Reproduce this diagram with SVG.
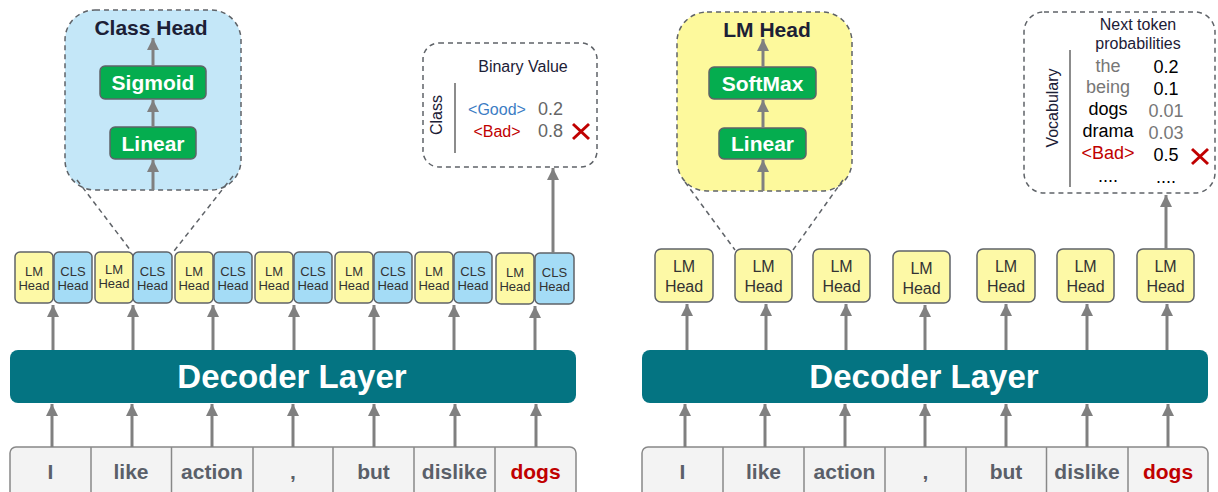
<svg xmlns="http://www.w3.org/2000/svg" width="1218" height="492" viewBox="0 0 1218 492">
<style>
text{font-family:"Liberation Sans",Arial,sans-serif}
.dash{stroke:#5f6368;stroke-width:1.5;stroke-dasharray:5 4}
.green{fill:#05ad4f;stroke:#5f6368;stroke-width:1.5}
.gt{fill:#fff;font-weight:bold;font-size:21px;text-anchor:middle}
.title{fill:#1c2036;font-weight:bold;font-size:21px;text-anchor:middle}
.lm{fill:#fdf9a6;stroke:#5f6368;stroke-width:1.5}
.cls{fill:#a4dcf6;stroke:#5f6368;stroke-width:1.5}
.hs{fill:#333;font-size:13px;text-anchor:middle}
.hb{fill:#333;font-size:16px;text-anchor:middle}
.dec{fill:#047482}
.dt{fill:#fff;font-weight:bold;font-size:33px;text-anchor:middle}
.tok{fill:#f3f3f3;stroke:#888;stroke-width:1.5}
.div{stroke:#888;stroke-width:1.5}
.tt{fill:#5a5f69;font-weight:bold;font-size:21px;text-anchor:middle}
.red{fill:#c00000}
.arr{stroke:#808080;stroke-width:3;fill:none;marker-end:url(#ah)}
.zl{stroke:#5f6368;stroke-width:1.5;stroke-dasharray:5 4;fill:none}
.x{stroke:#c00000;stroke-width:3}
.t16{font-size:16px}
.t18{font-size:18px}
</style>
<defs>
<marker id="ah" viewBox="0 0 12 12" markerUnits="userSpaceOnUse" markerWidth="12" markerHeight="12" refX="12" refY="6" orient="auto">
<path d="M0,0 L12,6 L0,12 z" fill="#808080"/>
</marker>
</defs>

<!-- LEFT SIDE -->
<g id="class-head">
<rect x="65" y="10" width="176" height="180" rx="30" fill="#c4e7f8" class="dash"/>
<text x="151" y="35" class="title">Class Head</text>
</g>
<g id="sigmoid"><rect x="100" y="66" width="106" height="33" rx="5" class="green"/><text x="153" y="90" class="gt">Sigmoid</text></g>
<g id="linear-l"><rect x="110" y="127" width="86" height="32" rx="5" class="green"/><text x="153" y="151" class="gt">Linear</text></g>

<g id="binary-box">
<rect x="423" y="43" width="174" height="124" rx="16" fill="#fff" class="dash"/>
<text x="523" y="72" class="t16" fill="#1c2036" text-anchor="middle">Binary Value</text>
<text transform="translate(442,115) rotate(-90)" class="t16" fill="#1c2036" text-anchor="middle">Class</text>
<line x1="455" y1="83" x2="455" y2="153" stroke="#666" stroke-width="1.5"/>
<text x="497" y="115" class="t16" fill="#3c7dc4" text-anchor="middle">&lt;Good&gt;</text>
<text x="538" y="115" class="t18" fill="#666">0.2</text>
<text x="497" y="137" class="t16 red" text-anchor="middle">&lt;Bad&gt;</text>
<text x="538" y="137" class="t18" fill="#666">0.8</text>
<line x1="573" y1="124" x2="589" y2="139" class="x"/><line x1="589" y1="124" x2="573" y2="139" class="x"/>
</g>

<g id="heads-left">
<g id="lh1"><rect x="15" y="252" width="38" height="51" rx="5" class="lm"/><text x="34" y="276" class="hs">LM</text><text x="34" y="290" class="hs">Head</text>
<rect x="54" y="252" width="38" height="51" rx="5" class="cls"/><text x="73" y="276" class="hs">CLS</text><text x="73" y="290" class="hs">Head</text></g>
<g id="lh2"><rect x="95" y="252" width="38" height="51" rx="5" class="lm"/><text x="114" y="274" class="hs">LM</text><text x="114" y="288" class="hs">Head</text>
<rect x="133" y="252" width="39" height="51" rx="5" class="cls"/><text x="152.5" y="276" class="hs">CLS</text><text x="152.5" y="290" class="hs">Head</text></g>
<g id="lh3"><rect x="175" y="252" width="38" height="51" rx="5" class="lm"/><text x="194" y="276" class="hs">LM</text><text x="194" y="290" class="hs">Head</text>
<rect x="214" y="252" width="38" height="51" rx="5" class="cls"/><text x="233" y="276" class="hs">CLS</text><text x="233" y="290" class="hs">Head</text></g>
<g id="lh4"><rect x="255" y="252" width="38" height="51" rx="5" class="lm"/><text x="274" y="276" class="hs">LM</text><text x="274" y="290" class="hs">Head</text>
<rect x="294" y="252" width="38" height="51" rx="5" class="cls"/><text x="313" y="276" class="hs">CLS</text><text x="313" y="290" class="hs">Head</text></g>
<g id="lh5"><rect x="335" y="252" width="38" height="51" rx="5" class="lm"/><text x="354" y="276" class="hs">LM</text><text x="354" y="290" class="hs">Head</text>
<rect x="374" y="252" width="38" height="51" rx="5" class="cls"/><text x="393" y="276" class="hs">CLS</text><text x="393" y="290" class="hs">Head</text></g>
<g id="lh6"><rect x="415" y="252" width="38" height="51" rx="5" class="lm"/><text x="434" y="276" class="hs">LM</text><text x="434" y="290" class="hs">Head</text>
<rect x="454" y="252" width="38" height="51" rx="5" class="cls"/><text x="473" y="276" class="hs">CLS</text><text x="473" y="290" class="hs">Head</text></g>
<g id="lh7"><rect x="496" y="253" width="38" height="51" rx="5" class="lm"/><text x="515" y="277" class="hs">LM</text><text x="515" y="291" class="hs">Head</text>
<rect x="535" y="253" width="39" height="51" rx="5" class="cls"/><text x="554.5" y="277" class="hs">CLS</text><text x="554.5" y="291" class="hs">Head</text></g>
</g>

<g id="decoder-left"><rect x="10" y="350" width="566" height="53" rx="8" class="dec"/><text x="292" y="388" class="dt">Decoder Layer</text></g>

<g id="tokens-left">
<rect x="10" y="447" width="566" height="60" rx="6" class="tok"/>
<line x1="91" y1="447" x2="91" y2="492" class="div"/>
<line x1="171.5" y1="447" x2="171.5" y2="492" class="div"/>
<line x1="253" y1="447" x2="253" y2="492" class="div"/>
<line x1="333" y1="447" x2="333" y2="492" class="div"/>
<line x1="414" y1="447" x2="414" y2="492" class="div"/>
<line x1="495" y1="447" x2="495" y2="492" class="div"/>
<text x="50.5" y="479" class="tt">I</text>
<text x="131" y="479" class="tt">like</text>
<text x="212" y="479" class="tt">action</text>
<text x="293" y="479" class="tt">,</text>
<text x="373.5" y="479" class="tt">but</text>
<text x="454.5" y="479" class="tt">dislike</text>
<text x="535.5" y="479" class="tt red">dogs</text>
</g>

<!-- RIGHT SIDE -->
<g id="lm-head-big">
<rect x="677" y="12" width="175" height="179" rx="30" fill="#fdf99c" class="dash"/>
<text x="767" y="37" class="title">LM Head</text>
</g>
<g id="softmax"><rect x="709" y="67" width="107" height="32" rx="5" class="green"/><text x="762.5" y="91" class="gt">SoftMax</text></g>
<g id="linear-r"><rect x="719" y="128" width="87" height="31" rx="5" class="green"/><text x="762.5" y="151" class="gt">Linear</text></g>

<g id="prob-box">
<rect x="1024" y="12" width="191" height="181" rx="20" fill="#fff" class="dash"/>
<text x="1138" y="30" class="t16" fill="#1c2036" text-anchor="middle">Next token</text>
<text x="1138" y="49" class="t16" fill="#1c2036" text-anchor="middle">probabilities</text>
<text transform="translate(1058,108) rotate(-90)" class="t16" fill="#1c2036" text-anchor="middle">Vocabulary</text>
<line x1="1070" y1="50" x2="1070" y2="187" stroke="#666" stroke-width="1.5"/>
<g class="t18" text-anchor="middle">
<text x="1108" y="72" fill="#777">the</text><text x="1166" y="73" fill="#000">0.2</text>
<text x="1108" y="93" fill="#777">being</text><text x="1166" y="95" fill="#000">0.1</text>
<text x="1108" y="115" fill="#000">dogs</text><text x="1166" y="117" fill="#777">0.01</text>
<text x="1108" y="137" fill="#000">drama</text><text x="1166" y="139" fill="#777">0.03</text>
<text x="1108" y="159" class="red">&lt;Bad&gt;</text><text x="1166" y="161" fill="#000">0.5</text>
<text x="1108" y="182" fill="#000">....</text><text x="1166" y="183" fill="#000">....</text>
</g>
<line x1="1192" y1="149" x2="1208" y2="164" class="x"/><line x1="1208" y1="149" x2="1192" y2="164" class="x"/>
</g>

<g id="heads-right">
<g id="rh1"><rect x="655" y="249" width="58" height="53" rx="6" class="lm"/><text x="684" y="272" class="hb">LM</text><text x="684" y="292" class="hb">Head</text></g>
<g id="rh2"><rect x="735" y="249" width="57" height="53" rx="6" class="lm"/><text x="763.5" y="272" class="hb">LM</text><text x="763.5" y="292" class="hb">Head</text></g>
<g id="rh3"><rect x="813" y="249" width="57" height="53" rx="6" class="lm"/><text x="841.5" y="272" class="hb">LM</text><text x="841.5" y="292" class="hb">Head</text></g>
<g id="rh4"><rect x="893" y="251" width="57" height="52" rx="6" class="lm"/><text x="921.5" y="274" class="hb">LM</text><text x="921.5" y="294" class="hb">Head</text></g>
<g id="rh5"><rect x="977" y="249" width="58" height="53" rx="6" class="lm"/><text x="1006" y="272" class="hb">LM</text><text x="1006" y="292" class="hb">Head</text></g>
<g id="rh6"><rect x="1057" y="249" width="57" height="53" rx="6" class="lm"/><text x="1085.5" y="272" class="hb">LM</text><text x="1085.5" y="292" class="hb">Head</text></g>
<g id="rh7"><rect x="1137" y="249" width="57" height="53" rx="6" class="lm"/><text x="1165.5" y="272" class="hb">LM</text><text x="1165.5" y="292" class="hb">Head</text></g>
</g>

<g id="decoder-right"><rect x="642" y="350" width="566" height="53" rx="8" class="dec"/><text x="924" y="388" class="dt">Decoder Layer</text></g>

<g id="tokens-right">
<rect x="642" y="447" width="566" height="60" rx="6" class="tok"/>
<line x1="723" y1="447" x2="723" y2="492" class="div"/>
<line x1="804" y1="447" x2="804" y2="492" class="div"/>
<line x1="885" y1="447" x2="885" y2="492" class="div"/>
<line x1="966" y1="447" x2="966" y2="492" class="div"/>
<line x1="1046.5" y1="447" x2="1046.5" y2="492" class="div"/>
<line x1="1128" y1="447" x2="1128" y2="492" class="div"/>
<text x="682.5" y="479" class="tt">I</text>
<text x="763.5" y="479" class="tt">like</text>
<text x="844.5" y="479" class="tt">action</text>
<text x="925.5" y="479" class="tt">,</text>
<text x="1006" y="479" class="tt">but</text>
<text x="1087" y="479" class="tt">dislike</text>
<text x="1168" y="479" class="tt red">dogs</text>
</g>

<g id="connectors">
<line x1="77" y1="180" x2="131" y2="251" class="zl"/>
<line x1="233" y1="176" x2="174" y2="251" class="zl"/>
<line x1="685" y1="182" x2="735" y2="250" class="zl"/>
<line x1="843" y1="180" x2="793" y2="250" class="zl"/>
<line x1="153" y1="190" x2="153" y2="160" class="arr"/>
<line x1="153" y1="127" x2="153" y2="100" class="arr"/>
<line x1="153" y1="66" x2="153" y2="38" class="arr"/>
<line x1="763" y1="191" x2="763" y2="160" class="arr"/>
<line x1="763" y1="128" x2="763" y2="100" class="arr"/>
<line x1="763" y1="67" x2="763" y2="39" class="arr"/>
<line x1="53" y1="350" x2="53" y2="305" class="arr"/>
<line x1="133" y1="350" x2="133" y2="305" class="arr"/>
<line x1="213" y1="350" x2="213" y2="305" class="arr"/>
<line x1="294" y1="350" x2="294" y2="305" class="arr"/>
<line x1="374" y1="350" x2="374" y2="305" class="arr"/>
<line x1="454" y1="350" x2="454" y2="305" class="arr"/>
<line x1="535" y1="350" x2="535" y2="306" class="arr"/>
<line x1="52" y1="447" x2="52" y2="404" class="arr"/>
<line x1="132" y1="447" x2="132" y2="404" class="arr"/>
<line x1="212" y1="447" x2="212" y2="404" class="arr"/>
<line x1="293" y1="447" x2="293" y2="404" class="arr"/>
<line x1="374" y1="447" x2="374" y2="404" class="arr"/>
<line x1="455" y1="447" x2="455" y2="404" class="arr"/>
<line x1="536" y1="447" x2="536" y2="404" class="arr"/>
<line x1="553" y1="253" x2="553" y2="168" class="arr"/>
<line x1="687" y1="350" x2="687" y2="304" class="arr"/>
<line x1="766" y1="350" x2="766" y2="304" class="arr"/>
<line x1="846" y1="350" x2="846" y2="304" class="arr"/>
<line x1="925" y1="350" x2="925" y2="305" class="arr"/>
<line x1="1006" y1="350" x2="1006" y2="304" class="arr"/>
<line x1="1087" y1="350" x2="1087" y2="304" class="arr"/>
<line x1="1167" y1="350" x2="1167" y2="304" class="arr"/>
<line x1="685" y1="447" x2="685" y2="404" class="arr"/>
<line x1="765" y1="447" x2="765" y2="404" class="arr"/>
<line x1="845" y1="447" x2="845" y2="404" class="arr"/>
<line x1="925" y1="447" x2="925" y2="404" class="arr"/>
<line x1="1006" y1="447" x2="1006" y2="404" class="arr"/>
<line x1="1087" y1="447" x2="1087" y2="404" class="arr"/>
<line x1="1168" y1="447" x2="1168" y2="404" class="arr"/>
<line x1="1166" y1="249" x2="1166" y2="195" class="arr"/>
</g>
</svg>
